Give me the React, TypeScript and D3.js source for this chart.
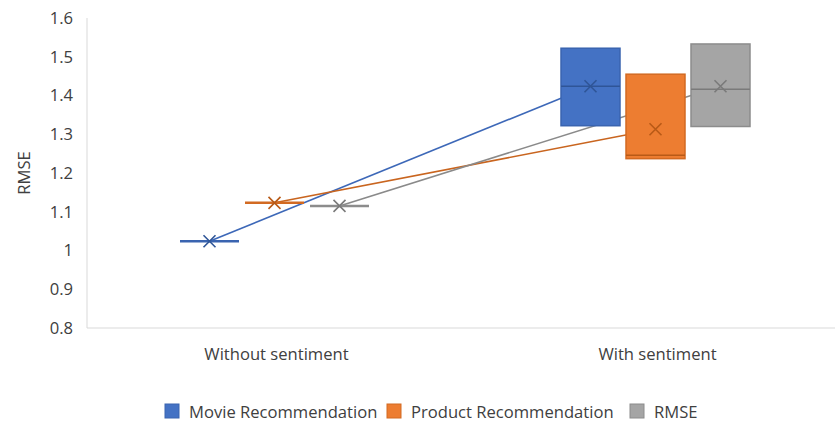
import React from "react";
import * as d3 from "d3";

// Categories and series
const categories = ["Without sentiment", "With sentiment"];
const seriesNames = ["Movie Recommendation", "Product Recommendation", "RMSE"];

// Box statistics per series, one value per category
const movieLow = [1.024, 1.322];
const movieMedian = [1.024, 1.424];
const movieHigh = [1.024, 1.522];
const movieMean = [1.024, 1.424];

const productLow = [1.123, 1.237];
const productMedian = [1.123, 1.246];
const productHigh = [1.123, 1.455];
const productMean = [1.123, 1.313];

const rmseLow = [1.115, 1.32];
const rmseMedian = [1.115, 1.416];
const rmseHigh = [1.115, 1.533];
const rmseMean = [1.115, 1.424];

const yTicks = [0.8, 0.9, 1, 1.1, 1.2, 1.3, 1.4, 1.5, 1.6];

const fills = ["#4472C4", "#ED7D31", "#A5A5A5"];
const strokes = ["#3A64B0", "#D26A22", "#8C8C8C"];
const accents = ["#2F5597", "#B85A17", "#7A7A7A"];
const lineColors = ["#3D68B8", "#C9651F", "#8A8A8A"];

const seriesData = [
  { low: movieLow, median: movieMedian, high: movieHigh, mean: movieMean },
  { low: productLow, median: productMedian, high: productHigh, mean: productMean },
  { low: rmseLow, median: rmseMedian, high: rmseHigh, mean: rmseMean },
];

const W = 835;
const H = 425;
const FONT = "'Open Sans', 'Noto Sans', sans-serif";
const FS = 16.6;

export default function App() {
  const y = d3.scaleLinear().domain([0.8, 1.6]).range([328, 18]);
  const x = d3.scaleBand<string>().domain(categories).range([84, 846]).padding(0);
  const inner = d3
    .scaleBand<string>()
    .domain(seriesNames)
    .range([-94.5, 94.5])
    .paddingInner(6 / 65)
    .paddingOuter(0);
  const bw = inner.bandwidth();

  const cx = (ci: number, si: number) =>
    (x(categories[ci]) as number) + x.bandwidth() / 2 + (inner(seriesNames[si]) as number) + bw / 2;

  const meanLine = d3
    .line<[number, number]>()
    .x((d) => d[0])
    .y((d) => d[1]);

  const m = 6;

  return (
    <svg
      width={W}
      height={H}
      style={{ position: "absolute", left: 0, top: 0, background: "#fff" }}
      fontFamily={FONT}
    >
      {/* axes */}
      <line x1={87} x2={87} y1={18} y2={328} stroke="#D9D9D9" strokeWidth={1} />
      <line x1={87} x2={835} y1={328} y2={328} stroke="#D9D9D9" strokeWidth={1} />

      {yTicks.map((t) => (
        <text
          key={t}
          x={73}
          y={y(t)}
          dy="0.35em"
          textAnchor="end"
          fontSize={FS}
          fill="#404040"
        >
          {String(t)}
        </text>
      ))}

      <text
        transform={`translate(30,${y(1.2)}) rotate(-90)`}
        textAnchor="middle"
        fontSize={FS}
        fill="#404040"
      >
        RMSE
      </text>

      {categories.map((c) => (
        <text
          key={c}
          x={(x(c) as number) + x.bandwidth() / 2 + 2}
          y={360}
          textAnchor="middle"
          fontSize={FS}
          fill="#404040"
        >
          {c}
        </text>
      ))}

      {/* mean connecting lines */}
      {seriesData.map((s, si) => (
        <path
          key={"ml" + si}
          d={meanLine(categories.map((_, ci) => [cx(ci, si), y(s.mean[ci])])) as string}
          fill="none"
          stroke={lineColors[si]}
          strokeWidth={1.6}
        />
      ))}

      {/* boxes */}
      {seriesData.map((s, si) =>
        categories.map((_, ci) => {
          const c = cx(ci, si);
          const x0 = c - bw / 2;
          const yTop = y(s.high[ci]);
          const yBot = y(s.low[ci]);
          const hgt = yBot - yTop;
          return (
            <g key={`b${si}-${ci}`}>
              {hgt > 0.5 ? (
                <rect
                  x={x0}
                  y={yTop}
                  width={bw}
                  height={hgt}
                  fill={fills[si]}
                  stroke={strokes[si]}
                  strokeWidth={1.5}
                />
              ) : null}
              <line
                x1={x0}
                x2={x0 + bw}
                y1={y(s.median[ci])}
                y2={y(s.median[ci])}
                stroke={hgt > 0.5 ? accents[si] : strokes[si]}
                strokeWidth={hgt > 0.5 ? 1.5 : 2.5}
              />
            </g>
          );
        })
      )}

      {/* mean markers */}
      {seriesData.map((s, si) =>
        categories.map((_, ci) => {
          const c = cx(ci, si);
          const my = y(s.mean[ci]);
          return (
            <path
              key={`m${si}-${ci}`}
              d={`M${c - m},${my - m}L${c + m},${my + m}M${c - m},${my + m}L${c + m},${my - m}`}
              stroke={accents[si]}
              strokeWidth={1.6}
              fill="none"
            />
          );
        })
      )}

      {/* legend */}
      {(() => {
        const items = [
          { x: 165, label: seriesNames[0] },
          { x: 387, label: seriesNames[1] },
          { x: 630, label: seriesNames[2] },
        ];
        return items.map((it, i) => (
          <g key={"lg" + i}>
            <rect
              x={it.x}
              y={404}
              width={14}
              height={14}
              fill={fills[i]}
              stroke={strokes[i]}
              strokeWidth={1}
            />
            <text x={it.x + 24} y={418} fontSize={FS} fill="#404040">
              {it.label}
            </text>
          </g>
        ));
      })()}
    </svg>
  );
}
